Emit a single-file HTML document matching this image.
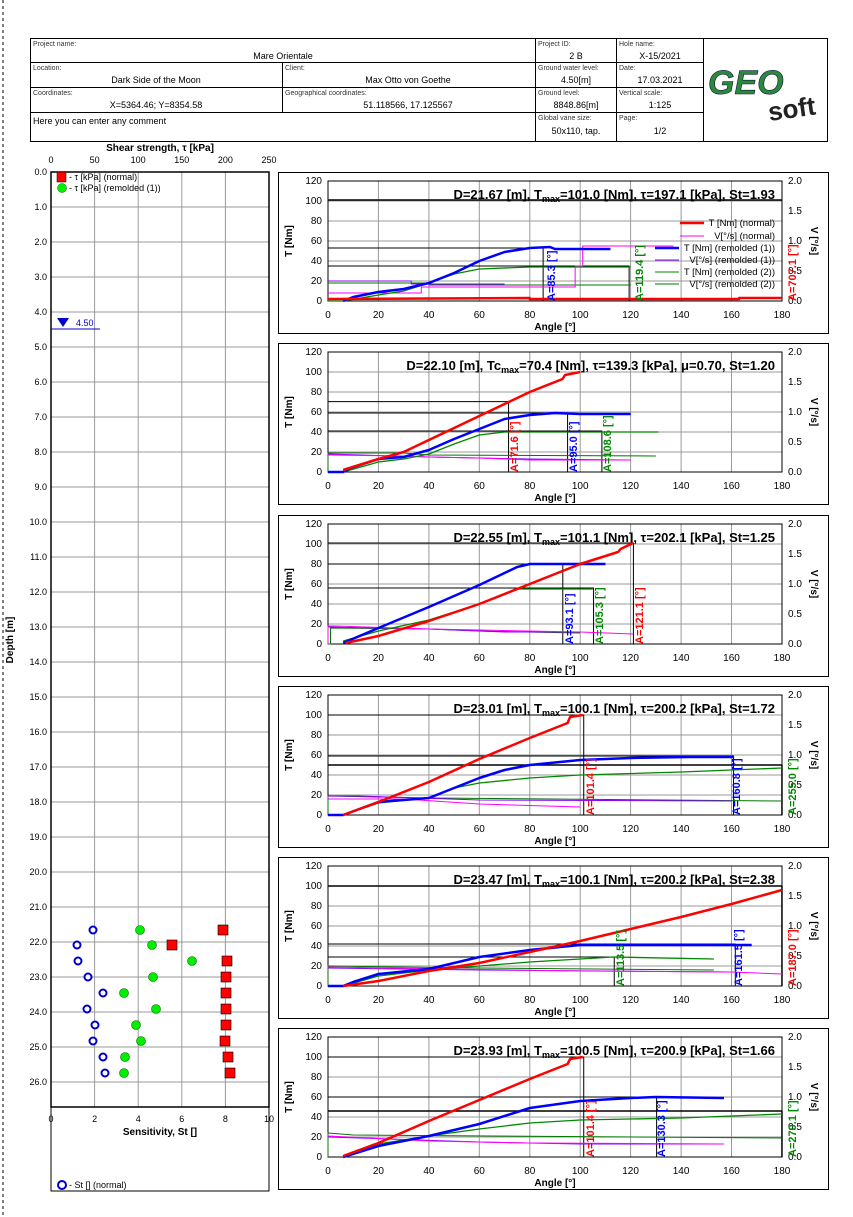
<!DOCTYPE html>
<html><head><meta charset="utf-8"><style>
body{margin:0;background:#fff}
svg{display:block;font-family:"Liberation Sans",sans-serif}
polyline{fill:none;vector-effect:non-scaling-stroke;stroke-linejoin:round}
.g{stroke:#999;stroke-width:1}
.t{font-size:10px}
.b{font-weight:bold}
</style></head><body>
<svg width="853" height="1217" viewBox="0 0 853 1217">
<line x1="3" y1="0" x2="3" y2="1217" stroke="#000" stroke-dasharray="3,3"/>
<!-- header -->
<g stroke="#000" fill="none">
<rect x="30.5" y="38.5" width="797" height="103"/>
<line x1="30" y1="62.5" x2="703" y2="62.5"/><line x1="30" y1="87.5" x2="703" y2="87.5"/><line x1="30" y1="112.5" x2="703" y2="112.5"/>
<line x1="282.5" y1="62" x2="282.5" y2="112"/><line x1="535.5" y1="38" x2="535.5" y2="142"/><line x1="616.5" y1="38" x2="616.5" y2="142"/><line x1="703.5" y1="38" x2="703.5" y2="142"/>
</g>
<g font-size="7" fill="#333">
<text x="33" y="46">Project name:</text><text x="538" y="46">Project ID:</text><text x="619" y="46">Hole name:</text>
<text x="33" y="70">Location:</text><text x="285" y="70">Client:</text><text x="538" y="70">Ground water level:</text><text x="619" y="70">Date:</text>
<text x="33" y="95">Coordinates:</text><text x="285" y="95">Geographical coordinates:</text><text x="538" y="95">Ground level:</text><text x="619" y="95">Vertical scale:</text>
<text x="538" y="120">Global vane size:</text><text x="619" y="120">Page:</text>
</g>
<g font-size="9" text-anchor="middle">
<text x="283" y="59">Mare Orientale</text><text x="576" y="59">2 B</text><text x="660" y="59">X-15/2021</text>
<text x="156" y="83">Dark Side of the Moon</text><text x="408" y="83">Max Otto von Goethe</text><text x="576" y="83">4.50[m]</text><text x="660" y="83">17.03.2021</text>
<text x="156" y="108">X=5364.46; Y=8354.58</text><text x="408" y="108">51.118566, 17.125567</text><text x="576" y="108">8848.86[m]</text><text x="660" y="108">1:125</text>
<text x="576" y="134">50x110, tap.</text><text x="660" y="134">1/2</text>
<text x="33" y="124" text-anchor="start">Here you can enter any comment</text>
</g>
<text x="708" y="94" font-size="34" font-weight="bold" font-style="italic" fill="#2a8a3a" stroke="#114" stroke-width="0.6">GEO</text>
<text x="768" y="118" font-size="26" font-weight="bold" fill="#222" transform="rotate(-8 790 110)">soft</text>

<!-- left chart -->
<text x="160" y="151" text-anchor="middle" font-size="10" font-weight="bold">Shear strength, τ [kPa]</text>
<g font-size="9" text-anchor="middle"><text x="51" y="163">0</text><text x="94.6" y="163">50</text><text x="138.2" y="163">100</text><text x="181.8" y="163">150</text><text x="225.4" y="163">200</text><text x="269" y="163">250</text></g>
<g class="g">
<line x1="94.6" y1="172" x2="94.6" y2="1107"/><line x1="138.2" y1="172" x2="138.2" y2="1107"/><line x1="181.8" y1="172" x2="181.8" y2="1107"/><line x1="225.4" y1="172" x2="225.4" y2="1107"/>
<line x1="51" y1="207" x2="269" y2="207"/><line x1="51" y1="242" x2="269" y2="242"/><line x1="51" y1="277" x2="269" y2="277"/><line x1="51" y1="312" x2="269" y2="312"/><line x1="51" y1="347" x2="269" y2="347"/><line x1="51" y1="382" x2="269" y2="382"/><line x1="51" y1="417" x2="269" y2="417"/><line x1="51" y1="452" x2="269" y2="452"/><line x1="51" y1="487" x2="269" y2="487"/><line x1="51" y1="522" x2="269" y2="522"/><line x1="51" y1="557" x2="269" y2="557"/><line x1="51" y1="592" x2="269" y2="592"/><line x1="51" y1="627" x2="269" y2="627"/><line x1="51" y1="662" x2="269" y2="662"/><line x1="51" y1="697" x2="269" y2="697"/><line x1="51" y1="732" x2="269" y2="732"/><line x1="51" y1="767" x2="269" y2="767"/><line x1="51" y1="802" x2="269" y2="802"/><line x1="51" y1="837" x2="269" y2="837"/><line x1="51" y1="872" x2="269" y2="872"/><line x1="51" y1="907" x2="269" y2="907"/><line x1="51" y1="942" x2="269" y2="942"/><line x1="51" y1="977" x2="269" y2="977"/><line x1="51" y1="1012" x2="269" y2="1012"/><line x1="51" y1="1047" x2="269" y2="1047"/><line x1="51" y1="1082" x2="269" y2="1082"/>
</g>
<rect x="51" y="172" width="218" height="935" fill="none" stroke="#000" stroke-width="1.5"/>
<polyline points="51,1107 51,1191 269,1191 269,1107" stroke="#000"/>
<g font-size="9" text-anchor="end">
<text x="47" y="175">0.0</text><text x="47" y="210">1.0</text><text x="47" y="245">2.0</text><text x="47" y="280">3.0</text><text x="47" y="315">4.0</text><text x="47" y="350">5.0</text><text x="47" y="385">6.0</text><text x="47" y="420">7.0</text><text x="47" y="455">8.0</text><text x="47" y="490">9.0</text><text x="47" y="525">10.0</text><text x="47" y="560">11.0</text><text x="47" y="595">12.0</text><text x="47" y="630">13.0</text><text x="47" y="665">14.0</text><text x="47" y="700">15.0</text><text x="47" y="735">16.0</text><text x="47" y="770">17.0</text><text x="47" y="805">18.0</text><text x="47" y="840">19.0</text><text x="47" y="875">20.0</text><text x="47" y="910">21.0</text><text x="47" y="945">22.0</text><text x="47" y="980">23.0</text><text x="47" y="1015">24.0</text><text x="47" y="1050">25.0</text><text x="47" y="1085">26.0</text>
</g>
<text transform="translate(13,640) rotate(-90)" text-anchor="middle" font-size="10" font-weight="bold">Depth [m]</text>
<g font-size="9" text-anchor="middle"><text x="51" y="1122">0</text><text x="94.6" y="1122">2</text><text x="138.2" y="1122">4</text><text x="181.8" y="1122">6</text><text x="225.4" y="1122">8</text><text x="269" y="1122">10</text></g>
<text x="160" y="1135" text-anchor="middle" font-size="10" font-weight="bold">Sensitivity, St []</text>
<!-- legend -->
<rect x="57" y="172" width="9" height="10" fill="#f00" stroke="#000" stroke-width="0.5"/><text x="69" y="180" font-size="9">- τ [kPa] (normal)</text>
<circle cx="62" cy="188" r="4.5" fill="#0e0" stroke="#060" stroke-width="0.5"/><text x="69" y="191" font-size="9">- τ [kPa] (remolded (1))</text>
<circle cx="62" cy="1185" r="4" fill="none" stroke="#00c" stroke-width="2"/><text x="69" y="1188" font-size="9">- St [] (normal)</text>
<!-- water level -->
<line x1="51" y1="329" x2="100" y2="329" stroke="#00c"/>
<polygon points="57,318 69,318 63,327" fill="#00c"/>
<text x="76" y="326" font-size="9" fill="#00c">4.50</text>
<!-- points -->
<g fill="#f00" stroke="#000" stroke-width="0.6">
<rect x="218" y="925" width="10" height="10"/><rect x="167" y="940" width="10" height="10"/><rect x="222" y="956" width="10" height="10"/><rect x="221" y="972" width="10" height="10"/><rect x="221" y="988" width="10" height="10"/><rect x="221" y="1004" width="10" height="10"/><rect x="221" y="1020" width="10" height="10"/><rect x="220" y="1036" width="10" height="10"/><rect x="223" y="1052" width="10" height="10"/><rect x="225" y="1068" width="10" height="10"/>
</g>
<g fill="#0e0" stroke="#060" stroke-width="0.6">
<circle cx="140" cy="930" r="4.5"/><circle cx="152" cy="945" r="4.5"/><circle cx="192" cy="961" r="4.5"/><circle cx="153" cy="977" r="4.5"/><circle cx="124" cy="993" r="4.5"/><circle cx="156" cy="1009" r="4.5"/><circle cx="136" cy="1025" r="4.5"/><circle cx="141" cy="1041" r="4.5"/><circle cx="125" cy="1057" r="4.5"/><circle cx="124" cy="1073" r="4.5"/>
</g>
<g fill="#fff" stroke="#00c" stroke-width="2">
<circle cx="93" cy="930" r="3.5"/><circle cx="77" cy="945" r="3.5"/><circle cx="78" cy="961" r="3.5"/><circle cx="88" cy="977" r="3.5"/><circle cx="103" cy="993" r="3.5"/><circle cx="87" cy="1009" r="3.5"/><circle cx="95" cy="1025" r="3.5"/><circle cx="93" cy="1041" r="3.5"/><circle cx="103" cy="1057" r="3.5"/><circle cx="105" cy="1073" r="3.5"/>
</g>

<!-- PANEL 1 -->
<g transform="translate(0,172)">
<rect x="278.5" y="0.5" width="550" height="161" fill="none" stroke="#000"/>
<g class="g"><line x1="378.4" y1="9" x2="378.4" y2="129"/><line x1="428.9" y1="9" x2="428.9" y2="129"/><line x1="479.3" y1="9" x2="479.3" y2="129"/><line x1="529.8" y1="9" x2="529.8" y2="129"/><line x1="580.2" y1="9" x2="580.2" y2="129"/><line x1="630.6" y1="9" x2="630.6" y2="129"/><line x1="681.1" y1="9" x2="681.1" y2="129"/><line x1="731.5" y1="9" x2="731.5" y2="129"/><line x1="328" y1="109" x2="782" y2="109"/><line x1="328" y1="89" x2="782" y2="89"/><line x1="328" y1="69" x2="782" y2="69"/><line x1="328" y1="49" x2="782" y2="49"/><line x1="328" y1="29" x2="782" y2="29"/></g>
<rect x="328" y="9" width="454" height="120" fill="none" stroke="#000"/>
<g class="t" text-anchor="end"><text x="322" y="12">120</text><text x="322" y="32">100</text><text x="322" y="52">80</text><text x="322" y="72">60</text><text x="322" y="92">40</text><text x="322" y="112">20</text><text x="322" y="132">0</text></g>
<g class="t"><text x="788" y="12">2.0</text><text x="788" y="42">1.5</text><text x="788" y="72">1.0</text><text x="788" y="102">0.5</text><text x="788" y="132">0.0</text></g>
<g class="t" text-anchor="middle"><text x="328" y="146">0</text><text x="378.4" y="146">20</text><text x="428.9" y="146">40</text><text x="479.3" y="146">60</text><text x="529.8" y="146">80</text><text x="580.2" y="146">100</text><text x="630.6" y="146">120</text><text x="681.1" y="146">140</text><text x="731.5" y="146">160</text><text x="782" y="146">180</text></g>
<text x="555" y="158" text-anchor="middle" class="t b">Angle [°]</text>
<text transform="translate(292,69) rotate(-90)" text-anchor="middle" class="t b">T [Nm]</text>
<text transform="translate(811,69) rotate(90)" text-anchor="middle" class="t b">V [°/s]</text>
<text x="775" y="27" text-anchor="end" font-size="13" font-weight="bold">D=21.67 [m], T<tspan font-size="9" dy="3">max</tspan><tspan dy="-3">=101.0 [Nm], τ=197.1 [kPa], St=1.93</tspan></text>
<g transform="translate(328,129) scale(2.522,-1)">
<polyline points="0,101 180,101" stroke="#000" stroke-width="1.5"/>
<polyline points="0,53 85.3,53 85.3,0" stroke="#000"/>
<polyline points="0,35 119.4,35 119.4,0" stroke="#000"/>
<polyline points="0,18 40,18 40,16 120,16" stroke="#070"/>
<polyline points="0,20 33,20 33,17 70,17" stroke="#80f"/>
<polyline points="0,8 37,8 37,14 98,14 98,35 101,35 101,55 137,55" stroke="#f0f"/>
<polyline points="0,0 6,0 20,6 30,10 40,18 50,27 60,32 80,34 120,34" stroke="#080" stroke-width="1.3"/>
<polyline points="6,0 10,4 20,9 30,12 40,18 50,28 60,40 70,49 80,53 88,54 90,52 112,52" stroke="#00f" stroke-width="2.5"/>
<polyline points="0,2 80,3 80,2 163,2 163,3 180,3" stroke="#f00" stroke-width="2.5"/>
</g>
<g font-size="11" font-weight="bold">
<text transform="translate(555,129) rotate(-90)" fill="#00f">A=85.3 [°]</text>
<text transform="translate(643,129) rotate(-90)" fill="#080">A=119.4 [°]</text>
<text transform="translate(796,129) rotate(-90)" fill="#f00">A=707.1 [°]</text>
</g>
<g font-size="9.5" text-anchor="end">
<line x1="680" y1="51" x2="704" y2="51" stroke="#f00" stroke-width="2.5"/><text x="775" y="54">T [Nm] (normal)</text>
<line x1="680" y1="64" x2="704" y2="64" stroke="#f0f"/><text x="775" y="67">V[°/s] (normal)</text>
<line x1="655" y1="76" x2="679" y2="76" stroke="#00f" stroke-width="2.5"/><text x="775" y="79">T [Nm] (remolded (1))</text>
<line x1="655" y1="88" x2="679" y2="88" stroke="#80f"/><text x="775" y="91">V[°/s] (remolded (1))</text>
<line x1="655" y1="100" x2="679" y2="100" stroke="#080"/><text x="775" y="103">T [Nm] (remolded (2))</text>
<line x1="655" y1="112" x2="679" y2="112" stroke="#070"/><text x="775" y="115">V[°/s] (remolded (2))</text>
</g>
</g>

<!-- PANEL 2 -->
<g transform="translate(0,343)">
<rect x="278.5" y="0.5" width="550" height="161" fill="none" stroke="#000"/>
<g class="g"><line x1="378.4" y1="9" x2="378.4" y2="129"/><line x1="428.9" y1="9" x2="428.9" y2="129"/><line x1="479.3" y1="9" x2="479.3" y2="129"/><line x1="529.8" y1="9" x2="529.8" y2="129"/><line x1="580.2" y1="9" x2="580.2" y2="129"/><line x1="630.6" y1="9" x2="630.6" y2="129"/><line x1="681.1" y1="9" x2="681.1" y2="129"/><line x1="731.5" y1="9" x2="731.5" y2="129"/><line x1="328" y1="109" x2="782" y2="109"/><line x1="328" y1="89" x2="782" y2="89"/><line x1="328" y1="69" x2="782" y2="69"/><line x1="328" y1="49" x2="782" y2="49"/><line x1="328" y1="29" x2="782" y2="29"/></g>
<rect x="328" y="9" width="454" height="120" fill="none" stroke="#000"/>
<g class="t" text-anchor="end"><text x="322" y="12">120</text><text x="322" y="32">100</text><text x="322" y="52">80</text><text x="322" y="72">60</text><text x="322" y="92">40</text><text x="322" y="112">20</text><text x="322" y="132">0</text></g>
<g class="t"><text x="788" y="12">2.0</text><text x="788" y="42">1.5</text><text x="788" y="72">1.0</text><text x="788" y="102">0.5</text><text x="788" y="132">0.0</text></g>
<g class="t" text-anchor="middle"><text x="328" y="146">0</text><text x="378.4" y="146">20</text><text x="428.9" y="146">40</text><text x="479.3" y="146">60</text><text x="529.8" y="146">80</text><text x="580.2" y="146">100</text><text x="630.6" y="146">120</text><text x="681.1" y="146">140</text><text x="731.5" y="146">160</text><text x="782" y="146">180</text></g>
<text x="555" y="158" text-anchor="middle" class="t b">Angle [°]</text>
<text transform="translate(292,69) rotate(-90)" text-anchor="middle" class="t b">T [Nm]</text>
<text transform="translate(811,69) rotate(90)" text-anchor="middle" class="t b">V [°/s]</text>
<text x="775" y="27" text-anchor="end" font-size="13" font-weight="bold">D=22.10 [m], Tc<tspan font-size="9" dy="3">max</tspan><tspan dy="-3">=70.4 [Nm], τ=139.3 [kPa], μ=0.70, St=1.20</tspan></text>
<g transform="translate(328,129) scale(2.522,-1)">
<polyline points="0,70.4 71.6,70.4 71.6,0" stroke="#000"/>
<polyline points="0,59 95,59 95,0" stroke="#000"/>
<polyline points="0,41 108.6,41 108.6,0" stroke="#000"/>
<polyline points="0,0 0,19 30,19 40,17 130,16" stroke="#070"/>
<polyline points="0,18 40,15 80,13 120,12" stroke="#80f"/>
<polyline points="0,17 30,16 40,15 60,14 80,12 120,12" stroke="#f0f"/>
<polyline points="6,0 20,10 30,13 40,18 50,28 60,37 70,40 131,40" stroke="#080" stroke-width="1.3"/>
<polyline points="0,0 6,0 8,3 20,13 30,15 40,22 50,33 60,43 70,53 80,57 90,59 100,58 120,58" stroke="#00f" stroke-width="2.5"/>
<polyline points="6,2 20,13 30,20 40,32 50,44 60,56 70,68 80,80 90,90 93,93 94,97 100,100" stroke="#f00" stroke-width="2.5"/>
</g>
<g font-size="11" font-weight="bold">
<text transform="translate(518,129) rotate(-90)" fill="#f00">A=71.6 [°]</text>
<text transform="translate(577,129) rotate(-90)" fill="#00f">A=95.0 [°]</text>
<text transform="translate(611,129) rotate(-90)" fill="#080">A=108.6 [°]</text>
</g>
</g>

<!-- PANEL 3 -->
<g transform="translate(0,515)">
<rect x="278.5" y="0.5" width="550" height="161" fill="none" stroke="#000"/>
<g class="g"><line x1="378.4" y1="9" x2="378.4" y2="129"/><line x1="428.9" y1="9" x2="428.9" y2="129"/><line x1="479.3" y1="9" x2="479.3" y2="129"/><line x1="529.8" y1="9" x2="529.8" y2="129"/><line x1="580.2" y1="9" x2="580.2" y2="129"/><line x1="630.6" y1="9" x2="630.6" y2="129"/><line x1="681.1" y1="9" x2="681.1" y2="129"/><line x1="731.5" y1="9" x2="731.5" y2="129"/><line x1="328" y1="109" x2="782" y2="109"/><line x1="328" y1="89" x2="782" y2="89"/><line x1="328" y1="69" x2="782" y2="69"/><line x1="328" y1="49" x2="782" y2="49"/><line x1="328" y1="29" x2="782" y2="29"/></g>
<rect x="328" y="9" width="454" height="120" fill="none" stroke="#000"/>
<g class="t" text-anchor="end"><text x="322" y="12">120</text><text x="322" y="32">100</text><text x="322" y="52">80</text><text x="322" y="72">60</text><text x="322" y="92">40</text><text x="322" y="112">20</text><text x="322" y="132">0</text></g>
<g class="t"><text x="788" y="12">2.0</text><text x="788" y="42">1.5</text><text x="788" y="72">1.0</text><text x="788" y="102">0.5</text><text x="788" y="132">0.0</text></g>
<g class="t" text-anchor="middle"><text x="328" y="146">0</text><text x="378.4" y="146">20</text><text x="428.9" y="146">40</text><text x="479.3" y="146">60</text><text x="529.8" y="146">80</text><text x="580.2" y="146">100</text><text x="630.6" y="146">120</text><text x="681.1" y="146">140</text><text x="731.5" y="146">160</text><text x="782" y="146">180</text></g>
<text x="555" y="158" text-anchor="middle" class="t b">Angle [°]</text>
<text transform="translate(292,69) rotate(-90)" text-anchor="middle" class="t b">T [Nm]</text>
<text transform="translate(811,69) rotate(90)" text-anchor="middle" class="t b">V [°/s]</text>
<text x="775" y="27" text-anchor="end" font-size="13" font-weight="bold">D=22.55 [m], T<tspan font-size="9" dy="3">max</tspan><tspan dy="-3">=101.1 [Nm], τ=202.1 [kPa], St=1.25</tspan></text>
<g transform="translate(328,129) scale(2.522,-1)">
<polyline points="0,101 121.1,101 121.1,0" stroke="#000"/>
<polyline points="0,80 93.1,80 93.1,0" stroke="#000"/>
<polyline points="0,56 105.3,56 105.3,0" stroke="#000"/>
<polyline points="0,0 1,0 1,16 40,15 60,13 100,11" stroke="#070"/>
<polyline points="0,17 40,15 70,12 100,12" stroke="#80f"/>
<polyline points="0,0 0,18 3,18 40,15 60,14 100,12 121,10" stroke="#f0f"/>
<polyline points="6,3 20,13 40,24 60,40 75,55 105,55" stroke="#080" stroke-width="1.3"/>
<polyline points="6,1 20,16 40,37 60,59 75,77 80,80 110,80" stroke="#00f" stroke-width="2.5"/>
<polyline points="7,1 20,8 40,23 60,40 80,60 100,80 115,92 116,95 121,101" stroke="#f00" stroke-width="2.5"/>
</g>
<g font-size="11" font-weight="bold">
<text transform="translate(573,129) rotate(-90)" fill="#00f">A=93.1 [°]</text>
<text transform="translate(603,129) rotate(-90)" fill="#080">A=105.3 [°]</text>
<text transform="translate(643,129) rotate(-90)" fill="#f00">A=121.1 [°]</text>
</g>
</g>

<!-- PANEL 4 -->
<g transform="translate(0,686)">
<rect x="278.5" y="0.5" width="550" height="161" fill="none" stroke="#000"/>
<g class="g"><line x1="378.4" y1="9" x2="378.4" y2="129"/><line x1="428.9" y1="9" x2="428.9" y2="129"/><line x1="479.3" y1="9" x2="479.3" y2="129"/><line x1="529.8" y1="9" x2="529.8" y2="129"/><line x1="580.2" y1="9" x2="580.2" y2="129"/><line x1="630.6" y1="9" x2="630.6" y2="129"/><line x1="681.1" y1="9" x2="681.1" y2="129"/><line x1="731.5" y1="9" x2="731.5" y2="129"/><line x1="328" y1="109" x2="782" y2="109"/><line x1="328" y1="89" x2="782" y2="89"/><line x1="328" y1="69" x2="782" y2="69"/><line x1="328" y1="49" x2="782" y2="49"/><line x1="328" y1="29" x2="782" y2="29"/></g>
<rect x="328" y="9" width="454" height="120" fill="none" stroke="#000"/>
<g class="t" text-anchor="end"><text x="322" y="12">120</text><text x="322" y="32">100</text><text x="322" y="52">80</text><text x="322" y="72">60</text><text x="322" y="92">40</text><text x="322" y="112">20</text><text x="322" y="132">0</text></g>
<g class="t"><text x="788" y="12">2.0</text><text x="788" y="42">1.5</text><text x="788" y="72">1.0</text><text x="788" y="102">0.5</text><text x="788" y="132">0.0</text></g>
<g class="t" text-anchor="middle"><text x="328" y="146">0</text><text x="378.4" y="146">20</text><text x="428.9" y="146">40</text><text x="479.3" y="146">60</text><text x="529.8" y="146">80</text><text x="580.2" y="146">100</text><text x="630.6" y="146">120</text><text x="681.1" y="146">140</text><text x="731.5" y="146">160</text><text x="782" y="146">180</text></g>
<text x="555" y="158" text-anchor="middle" class="t b">Angle [°]</text>
<text transform="translate(292,69) rotate(-90)" text-anchor="middle" class="t b">T [Nm]</text>
<text transform="translate(811,69) rotate(90)" text-anchor="middle" class="t b">V [°/s]</text>
<text x="775" y="27" text-anchor="end" font-size="13" font-weight="bold">D=23.01 [m], T<tspan font-size="9" dy="3">max</tspan><tspan dy="-3">=100.1 [Nm], τ=200.2 [kPa], St=1.72</tspan></text>
<g transform="translate(328,129) scale(2.522,-1)">
<polyline points="0,100 101.4,100 101.4,0" stroke="#000"/>
<polyline points="0,59 160.8,59 160.8,0" stroke="#000"/>
<polyline points="0,50 180,50 180,0" stroke="#000" stroke-width="1.5"/>
<polyline points="0,0 0,19 40,17 180,14" stroke="#070"/>
<polyline points="0,19 12,19 60,15 160,14" stroke="#80f"/>
<polyline points="0,16 30,16 60,11 100,8" stroke="#f0f"/>
<polyline points="6,0 20,12 40,17 50,27 60,32 80,37 100,40 140,43 180,47" stroke="#080" stroke-width="1.3"/>
<polyline points="0,0 6,0 20,13 40,17 50,27 60,37 70,45 80,50 100,55 120,57 143,58 161,58" stroke="#00f" stroke-width="2.5"/>
<polyline points="6,0 20,13 40,33 60,56 80,77 95,92 96,98 101,100" stroke="#f00" stroke-width="2.5"/>
</g>
<g font-size="11" font-weight="bold">
<text transform="translate(594,129) rotate(-90)" fill="#f00">A=101.4 [°]</text>
<text transform="translate(740,129) rotate(-90)" fill="#00f">A=160.8 [°]</text>
<text transform="translate(796,129) rotate(-90)" fill="#080">A=255.0 [°]</text>
</g>
</g>

<!-- PANEL 5 -->
<g transform="translate(0,857)">
<rect x="278.5" y="0.5" width="550" height="161" fill="none" stroke="#000"/>
<g class="g"><line x1="378.4" y1="9" x2="378.4" y2="129"/><line x1="428.9" y1="9" x2="428.9" y2="129"/><line x1="479.3" y1="9" x2="479.3" y2="129"/><line x1="529.8" y1="9" x2="529.8" y2="129"/><line x1="580.2" y1="9" x2="580.2" y2="129"/><line x1="630.6" y1="9" x2="630.6" y2="129"/><line x1="681.1" y1="9" x2="681.1" y2="129"/><line x1="731.5" y1="9" x2="731.5" y2="129"/><line x1="328" y1="109" x2="782" y2="109"/><line x1="328" y1="89" x2="782" y2="89"/><line x1="328" y1="69" x2="782" y2="69"/><line x1="328" y1="49" x2="782" y2="49"/><line x1="328" y1="29" x2="782" y2="29"/></g>
<rect x="328" y="9" width="454" height="120" fill="none" stroke="#000"/>
<g class="t" text-anchor="end"><text x="322" y="12">120</text><text x="322" y="32">100</text><text x="322" y="52">80</text><text x="322" y="72">60</text><text x="322" y="92">40</text><text x="322" y="112">20</text><text x="322" y="132">0</text></g>
<g class="t"><text x="788" y="12">2.0</text><text x="788" y="42">1.5</text><text x="788" y="72">1.0</text><text x="788" y="102">0.5</text><text x="788" y="132">0.0</text></g>
<g class="t" text-anchor="middle"><text x="328" y="146">0</text><text x="378.4" y="146">20</text><text x="428.9" y="146">40</text><text x="479.3" y="146">60</text><text x="529.8" y="146">80</text><text x="580.2" y="146">100</text><text x="630.6" y="146">120</text><text x="681.1" y="146">140</text><text x="731.5" y="146">160</text><text x="782" y="146">180</text></g>
<text x="555" y="158" text-anchor="middle" class="t b">Angle [°]</text>
<text transform="translate(292,69) rotate(-90)" text-anchor="middle" class="t b">T [Nm]</text>
<text transform="translate(811,69) rotate(90)" text-anchor="middle" class="t b">V [°/s]</text>
<text x="775" y="27" text-anchor="end" font-size="13" font-weight="bold">D=23.47 [m], T<tspan font-size="9" dy="3">max</tspan><tspan dy="-3">=100.1 [Nm], τ=200.2 [kPa], St=2.38</tspan></text>
<g transform="translate(328,129) scale(2.522,-1)">
<polyline points="0,100 180,100 180,0" stroke="#000" stroke-width="1.5"/>
<polyline points="0,42 161.5,42 161.5,0" stroke="#000"/>
<polyline points="0,29 113.5,29 113.5,0" stroke="#000"/>
<polyline points="0,0 0,20 60,18 153,16" stroke="#070"/>
<polyline points="0,18 60,16 160,14" stroke="#80f"/>
<polyline points="0,19 100,15 160,14 180,12" stroke="#f0f"/>
<polyline points="6,0 20,10 40,16 60,20 80,24 100,27 113,29 153,27" stroke="#080" stroke-width="1.3"/>
<polyline points="0,0 6,0 10,4 20,12 40,17 60,29 80,36 100,41 168,41" stroke="#00f" stroke-width="2.5"/>
<polyline points="6,0 20,5 40,15 60,23 80,34 100,45 120,57 140,69 160,82 180,96" stroke="#f00" stroke-width="2.5"/>
</g>
<g font-size="11" font-weight="bold">
<text transform="translate(624,129) rotate(-90)" fill="#080">A=113.5 [°]</text>
<text transform="translate(742,129) rotate(-90)" fill="#00f">A=161.5 [°]</text>
<text transform="translate(796,129) rotate(-90)" fill="#f00">A=187.0 [°]</text>
</g>
</g>

<!-- PANEL 6 -->
<g transform="translate(0,1028)">
<rect x="278.5" y="0.5" width="550" height="161" fill="none" stroke="#000"/>
<g class="g"><line x1="378.4" y1="9" x2="378.4" y2="129"/><line x1="428.9" y1="9" x2="428.9" y2="129"/><line x1="479.3" y1="9" x2="479.3" y2="129"/><line x1="529.8" y1="9" x2="529.8" y2="129"/><line x1="580.2" y1="9" x2="580.2" y2="129"/><line x1="630.6" y1="9" x2="630.6" y2="129"/><line x1="681.1" y1="9" x2="681.1" y2="129"/><line x1="731.5" y1="9" x2="731.5" y2="129"/><line x1="328" y1="109" x2="782" y2="109"/><line x1="328" y1="89" x2="782" y2="89"/><line x1="328" y1="69" x2="782" y2="69"/><line x1="328" y1="49" x2="782" y2="49"/><line x1="328" y1="29" x2="782" y2="29"/></g>
<rect x="328" y="9" width="454" height="120" fill="none" stroke="#000"/>
<g class="t" text-anchor="end"><text x="322" y="12">120</text><text x="322" y="32">100</text><text x="322" y="52">80</text><text x="322" y="72">60</text><text x="322" y="92">40</text><text x="322" y="112">20</text><text x="322" y="132">0</text></g>
<g class="t"><text x="788" y="12">2.0</text><text x="788" y="42">1.5</text><text x="788" y="72">1.0</text><text x="788" y="102">0.5</text><text x="788" y="132">0.0</text></g>
<g class="t" text-anchor="middle"><text x="328" y="146">0</text><text x="378.4" y="146">20</text><text x="428.9" y="146">40</text><text x="479.3" y="146">60</text><text x="529.8" y="146">80</text><text x="580.2" y="146">100</text><text x="630.6" y="146">120</text><text x="681.1" y="146">140</text><text x="731.5" y="146">160</text><text x="782" y="146">180</text></g>
<text x="555" y="158" text-anchor="middle" class="t b">Angle [°]</text>
<text transform="translate(292,69) rotate(-90)" text-anchor="middle" class="t b">T [Nm]</text>
<text transform="translate(811,69) rotate(90)" text-anchor="middle" class="t b">V [°/s]</text>
<text x="775" y="27" text-anchor="end" font-size="13" font-weight="bold">D=23.93 [m], T<tspan font-size="9" dy="3">max</tspan><tspan dy="-3">=100.5 [Nm], τ=200.9 [kPa], St=1.66</tspan></text>
<g transform="translate(328,129) scale(2.522,-1)">
<polyline points="0,100 101.4,100 101.4,0" stroke="#000"/>
<polyline points="0,60 130.3,60 130.3,0" stroke="#000"/>
<polyline points="0,46 180,46 180,0" stroke="#000" stroke-width="1.5"/>
<polyline points="0,0 0,24 10,22 180,19" stroke="#070"/>
<polyline points="0,20 60,15 100,13 157,13" stroke="#80f"/>
<polyline points="0,21 40,16 80,14 157,13" stroke="#f0f"/>
<polyline points="6,1 20,13 40,21 60,28 80,34 100,37 140,39 180,43" stroke="#080" stroke-width="1.3"/>
<polyline points="6,0 20,11 40,21 60,33 80,49 100,56 120,59 130,60 157,59" stroke="#00f" stroke-width="2.5"/>
<polyline points="6,1 20,14 40,36 60,57 80,78 95,93 96,98 101,100" stroke="#f00" stroke-width="2.5"/>
</g>
<g font-size="11" font-weight="bold">
<text transform="translate(594,129) rotate(-90)" fill="#f00">A=101.4 [°]</text>
<text transform="translate(665,129) rotate(-90)" fill="#00f">A=130.3 [°]</text>
<text transform="translate(796,129) rotate(-90)" fill="#080">A=270.1 [°]</text>
</g>
</g>
</svg>
</body></html>
